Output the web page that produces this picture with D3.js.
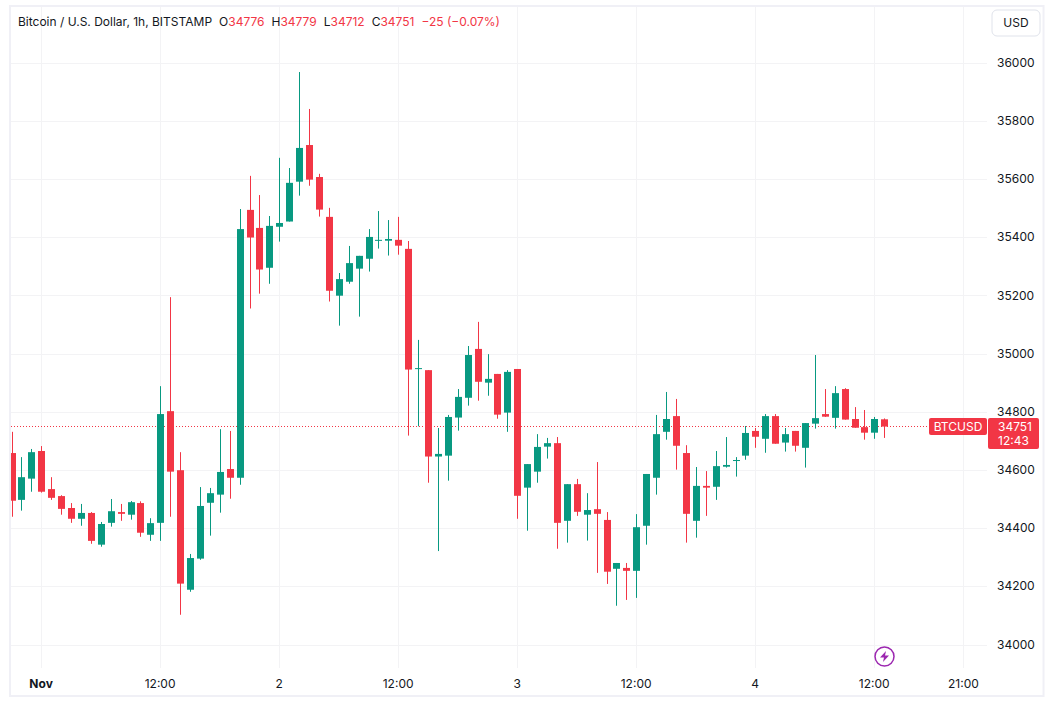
<!DOCTYPE html>
<html>
<head>
<meta charset="utf-8">
<script src="https://cdn.jsdelivr.net/npm/d3@7"></script>
<style>
  html, body { margin: 0; padding: 0; background: #fff; overflow: hidden; }
  svg { display: block; font-family: Inter, "Noto Sans", sans-serif; }
  .axis path, .axis line { display: none; }
  .axis text { fill: #131722; font-size: 12px; font-family: Inter, sans-serif; }
</style>
</head>
<body>
<svg id="chart" width="1054" height="710"></svg>
<script>
const width = 1054;
const height = 710;

const title = "Bitcoin / U.S. Dollar, 1h, BITSTAMP";
const lastOpen = 34776;
const lastHigh = 34779;
const lastLow = 34712;
const lastClose = 34751;
const symbol = "BTCUSD";
const countdown = "12:43";
const currency = "USD";

// hourly bars, first one is 31 Oct 21:00
const firstBar = new Date(Date.UTC(2023, 9, 31, 21));

const opens = [
  34660, 34499, 34572, 34667, 34536, 34512, 34471, 34434, 34454, 34345, 34420, 34457,
  34448, 34488, 34379, 34420, 34804, 34601, 34190, 34297, 34489, 34517, 34605, 34575,
  35496, 35434, 35297, 35438, 35456, 35593, 35719, 35609, 35472, 35201, 35249, 35294,
  35328, 35390, 35390, 35393, 35362, 34950, 34945, 34648, 34651, 34782, 34850, 35018,
  34902, 34932, 34799, 34949, 34541, 34596, 34682, 34694, 34427, 34553, 34448, 34467,
  34430, 34262, 34265, 34255, 34410, 34575, 34733, 34787, 34660, 34427, 34547, 34544,
  34613, 34634, 34651, 34736, 34709, 34787, 34696, 34736, 34678, 34761, 34794, 34781,
  34880, 34777, 34749, 34730, 34776
];
const highs = [
  34733, 34646, 34674, 34684, 34577, 34515, 34488, 34485, 34457, 34423, 34502, 34485,
  34495, 34494, 34436, 34890, 35196, 34663, 34313, 34543, 34540, 34742, 34736, 35499,
  35613, 35547, 35475, 35675, 35640, 35970, 35843, 35620, 35503, 35279, 35372, 35338,
  35430, 35492, 35461, 35472, 35389, 35049, 34945, 34746, 34791, 34880, 35028, 35111,
  35000, 34932, 34945, 34949, 34622, 34725, 34712, 34715, 34553, 34571, 34522, 34629,
  34457, 34282, 34282, 34450, 34588, 34791, 34870, 34846, 34687, 34612, 34598, 34667,
  34715, 34646, 34753, 34746, 34794, 34794, 34746, 34736, 34763, 34997, 34880, 34890,
  34883, 34818, 34808, 34784, 34779
];
const lows = [
  34441, 34462, 34527, 34524, 34499, 34448, 34420, 34410, 34348, 34338, 34407, 34427,
  34431, 34372, 34358, 34358, 34441, 34104, 34183, 34293, 34376, 34455, 34503, 34551,
  35157, 35208, 35242, 35387, 35456, 35545, 35579, 35473, 35181, 35098, 35242, 35129,
  35284, 35363, 35339, 35342, 34720, 34752, 34558, 34323, 34565, 34737, 34823, 34840,
  34857, 34778, 34733, 34434, 34393, 34558, 34641, 34331, 34352, 34444, 34359, 34248,
  34210, 34135, 34155, 34162, 34345, 34517, 34706, 34603, 34352, 34369, 34444, 34499,
  34610, 34579, 34637, 34678, 34661, 34692, 34665, 34665, 34610, 34744, 34784, 34744,
  34775, 34747, 34706, 34709, 34712
];
const closes = [
  34496, 34577, 34663, 34527, 34506, 34468, 34434, 34454, 34358, 34416, 34460, 34451,
  34491, 34386, 34419, 34794, 34596, 34211, 34299, 34478, 34522, 34595, 34575, 35430,
  35401, 35291, 35441, 35451, 35589, 35709, 35600, 35497, 35218, 35258, 35313, 35338,
  35403, 35393, 35396, 35373, 34947, 34952, 34648, 34657, 34784, 34853, 34997, 34905,
  34915, 34792, 34939, 34513, 34622, 34681, 34694, 34420, 34553, 34458, 34464, 34451,
  34252, 34282, 34255, 34405, 34588, 34725, 34777, 34685, 34451, 34547, 34541, 34615,
  34619, 34636, 34729, 34716, 34787, 34692, 34725, 34685, 34763, 34780, 34785, 34866,
  34775, 34747, 34730, 34777, 34751
];

const priceTicks = [34000, 34200, 34400, 34600, 34800, 35000, 35200, 35400, 35600, 35800, 36000];
const timeTickDates = [
  new Date(Date.UTC(2023, 10, 1, 0)),
  new Date(Date.UTC(2023, 10, 1, 12)),
  new Date(Date.UTC(2023, 10, 2, 0)),
  new Date(Date.UTC(2023, 10, 2, 12)),
  new Date(Date.UTC(2023, 10, 3, 0)),
  new Date(Date.UTC(2023, 10, 3, 12)),
  new Date(Date.UTC(2023, 10, 4, 0)),
  new Date(Date.UTC(2023, 10, 4, 12)),
  new Date(Date.UTC(2023, 10, 4, 21))
];
const timeTickLabels = ["Nov", "12:00", "2", "12:00", "3", "12:00", "4", "12:00", "21:00"];

const up = "#089981";
const down = "#f23645";
const gridColor = "#f3f3f5";
const frameColor = "#f0f0f6";

const bars = opens.map((o, i) => ({
  time: d3.utcHour.offset(firstBar, i),
  open: o,
  high: highs[i],
  low: lows[i],
  close: closes[i]
}));

// plot area edges
const plotLeft = 11, plotRight = 987, plotTop = 7, plotBottom = 668;

const x = d3.scaleUtc()
  .domain([timeTickDates[0], timeTickDates[8]])
  .range([41.3, 963.6]);
const y = d3.scaleLinear()
  .domain([34000, 36000])
  .range([645, 63.3]);

const svg = d3.select("#chart");

svg.append("defs").append("clipPath").attr("id", "plot")
  .append("rect")
  .attr("x", plotLeft).attr("y", plotTop)
  .attr("width", plotRight - plotLeft).attr("height", plotBottom - plotTop);

// frame
svg.append("rect")
  .attr("x", 10).attr("y", 6)
  .attr("width", 1033.5).attr("height", 690)
  .attr("fill", "#fff")
  .attr("stroke", frameColor)
  .attr("stroke-width", 2);

// grid
const crisp = (v) => Math.floor(v) + 0.5;
svg.append("g").selectAll("line")
  .data(priceTicks)
  .join("line")
  .attr("x1", plotLeft).attr("x2", plotRight)
  .attr("y1", (d) => crisp(y(d))).attr("y2", (d) => crisp(y(d)))
  .attr("stroke", gridColor);
svg.append("g").selectAll("line")
  .data(timeTickDates)
  .join("line")
  .attr("x1", (d) => crisp(x(d))).attr("x2", (d) => crisp(x(d)))
  .attr("y1", plotTop).attr("y2", plotBottom)
  .attr("stroke", gridColor);

// last price line
svg.append("line")
  .attr("x1", plotLeft).attr("x2", 929)
  .attr("y1", crisp(y(lastClose))).attr("y2", crisp(y(lastClose)))
  .attr("stroke", down)
  .attr("stroke-dasharray", "1 2");

// candles
const candles = svg.append("g")
  .attr("clip-path", "url(#plot)")
  .selectAll("g")
  .data(bars)
  .join("g")
  .attr("fill", (d) => (d.close >= d.open ? up : down));

candles.append("rect")
  .attr("x", (d) => Math.round(x(d.time)))
  .attr("width", 1)
  .attr("y", (d) => y(d.high))
  .attr("height", (d) => y(d.low) - y(d.high));

candles.append("rect")
  .attr("x", (d) => Math.round(x(d.time)) - 3)
  .attr("width", 7)
  .attr("y", (d) => Math.min(y(d.open), y(d.close)))
  .attr("height", (d) => Math.max(1, Math.abs(y(d.open) - y(d.close))));

// axes, labels sit a touch left of / above the grid lines
svg.append("g")
  .attr("class", "axis")
  .attr("transform", "translate(-0.7, 668)")
  .call(
    d3.axisBottom(x)
      .tickValues(timeTickDates)
      .tickFormat((d, i) => timeTickLabels[i])
      .tickSize(0)
      .tickPadding(11)
  )
  .selectAll("text")
  .attr("font-weight", (d, i) => (i === 0 ? 700 : 400));

svg.append("g")
  .attr("class", "axis")
  .attr("transform", "translate(997, -0.8)")
  .call(d3.axisRight(y).tickValues(priceTicks).tickFormat(d3.format("d")).tickSize(0).tickPadding(0));

// legend line on top
const legend = svg.append("text")
  .attr("x", 18).attr("y", 26)
  .attr("font-size", 12)
  .attr("fill", "#131722");
legend.append("tspan").text(title);
[["O", lastOpen], ["H", lastHigh], ["L", lastLow], ["C", lastClose]].forEach(([k, v]) => {
  legend.append("tspan").attr("dx", 7).text(k);
  legend.append("tspan").attr("fill", down).text(v);
});
legend.append("tspan").attr("dx", 7).attr("fill", down)
  .text(`\u2212${lastOpen - lastClose} (\u2212${d3.format(".2f")(((lastOpen - lastClose) / lastOpen) * 100)}%)`);

// currency button
svg.append("rect")
  .attr("x", 992).attr("y", 10)
  .attr("width", 48).attr("height", 26)
  .attr("rx", 5)
  .attr("fill", "#fff")
  .attr("stroke", "#e0e3eb");
svg.append("text")
  .attr("x", 1016).attr("y", 27)
  .attr("text-anchor", "middle")
  .attr("font-size", 12)
  .attr("fill", "#131722")
  .text(currency);

// price labels
svg.append("rect")
  .attr("x", 929).attr("y", 418)
  .attr("width", 58).attr("height", 17)
  .attr("rx", 2)
  .attr("fill", down);
svg.append("text")
  .attr("x", 958).attr("y", 430.5)
  .attr("text-anchor", "middle")
  .attr("font-size", 12)
  .attr("fill", "#fff")
  .text(symbol);
svg.append("rect")
  .attr("x", 988).attr("y", 418)
  .attr("width", 51).attr("height", 31)
  .attr("rx", 2)
  .attr("fill", down);
svg.append("text")
  .attr("x", 1015).attr("y", 430.5)
  .attr("text-anchor", "middle")
  .attr("font-size", 12)
  .attr("fill", "#fff")
  .text(lastClose);
svg.append("text")
  .attr("x", 1013.5).attr("y", 445)
  .attr("text-anchor", "middle")
  .attr("font-size", 12)
  .attr("fill", "#fff")
  .text(countdown);

// lightning marker
const mark = svg.append("g").attr("transform", "translate(884.5, 656.5)");
mark.append("circle")
  .attr("r", 9.5)
  .attr("fill", "#fff")
  .attr("stroke", "#9c27b0")
  .attr("stroke-width", 1.5);
mark.append("path")
  .attr("d", "M1.5,-5.5 L-4.5,1 L-0.5,1 L-1.5,5.5 L4.5,-1 L0.5,-1 Z")
  .attr("fill", "#9c27b0");
</script>
</body>
</html>
